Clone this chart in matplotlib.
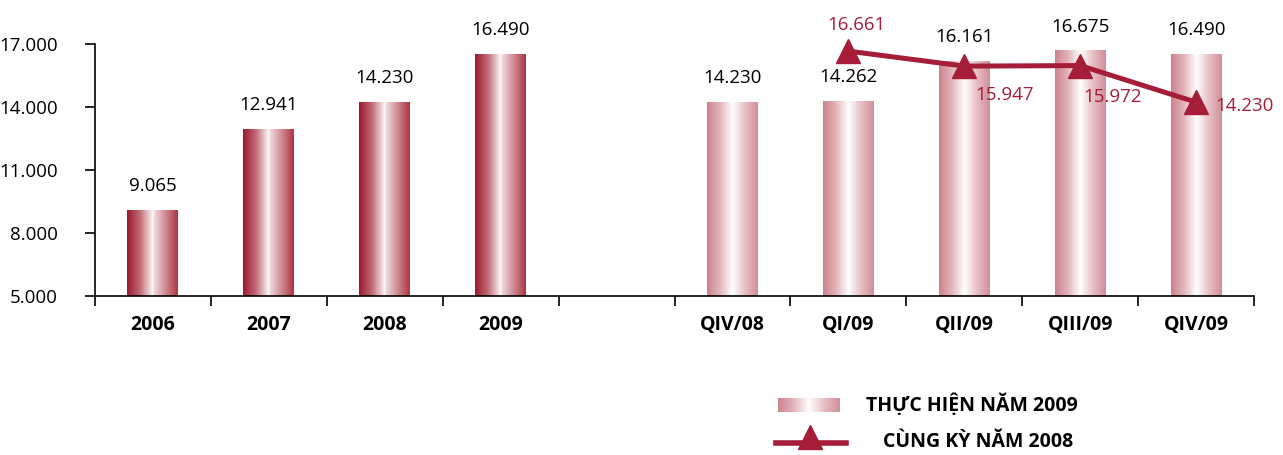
import numpy as np
import matplotlib.pyplot as plt
from matplotlib.colors import LinearSegmentedColormap

plt.rcParams['font.family'] = ['Open Sans', 'DejaVu Sans']

# du lieu
categories = ['2006', '2007', '2008', '2009', '', 'QIV/08', 'QI/09', 'QII/09', 'QIII/09', 'QIV/09']
bar_values = [9065, 12941, 14230, 16490, None, 14230, 14262, 16161, 16675, 16490]
dark_bars = [True, True, True, True, False, False, False, False, False, False]
line_cats = ['QI/09', 'QII/09', 'QIII/09', 'QIV/09']
line_values = [16661, 15947, 15972, 14230]
yticks = [5000, 8000, 11000, 14000, 17000]
legend_labels = ['THỰC HIỆN NĂM 2009', 'CÙNG KỲ NĂM 2008']

red = '#a51d38'
dark_cmap = LinearSegmentedColormap.from_list('dark', [
    (0, '#9c1830'), (0.25, '#c06a74'), (0.47, '#f3e2e3'), (0.5, '#ffffff'),
    (0.53, '#f1dcde'), (0.75, '#cf8e96'), (1, '#ae3445')])
light_cmap = LinearSegmentedColormap.from_list('light', [
    (0, '#cd828d'), (0.25, '#e2b4ba'), (0.5, '#ffffff'), (0.75, '#e6bec3'), (1, '#d18e98')])
grad = np.linspace(0, 1, 256).reshape(1, -1)


def fmt(v):
    return f"{v:,}".replace(',', '.')


fig = plt.figure(figsize=(12.83, 4.55), dpi=100)
ax = fig.add_axes([95 / 1283, 1 - 296 / 455, (1254 - 95) / 1283, (296 - 44) / 455])

x = np.arange(len(categories))
w = 0.44
ymin = yticks[0]
for i, v in enumerate(bar_values):
    if v is None:
        continue
    cmap = dark_cmap if dark_bars[i] else light_cmap
    ax.imshow(grad, cmap=cmap, aspect='auto', extent=[x[i] - w / 2, x[i] + w / 2, ymin, v], zorder=2)
    ax.annotate(fmt(v), (x[i], v), xytext=(0, 11), textcoords='offset points',
                ha='center', va='bottom', fontsize=13.5, color='black')

# duong cung ky
lx = [categories.index(c) for c in line_cats]
ax.plot(lx, line_values, color=red, lw=3.6, marker='^', markersize=17, zorder=4, clip_on=False)
offsets = [(6, 12, 'center', 'bottom'), (8, -14, 'left', 'top'), (2, -16, 'left', 'top'), (14, -3, 'left', 'center')]
for xi, v, (dx, dy, ha, va) in zip(lx, line_values, offsets):
    ax.annotate(fmt(v), (xi, v), xytext=(dx, dy), textcoords='offset points',
                ha=ha, va=va, fontsize=13.5, color=red)

ax.set_xlim(-0.5, len(categories) - 0.5)
ax.set_ylim(yticks[0], yticks[-1])
ax.set_yticks(yticks)
ax.set_yticklabels([fmt(t) for t in yticks], fontsize=13.5)
ax.set_xticks(x)
ax.set_xticklabels(categories, fontsize=14, fontweight='bold')
ax.set_xticks(np.arange(len(categories) + 1) - 0.5, minor=True)
ax.tick_params(axis='x', which='major', length=0, pad=14)
ax.tick_params(axis='x', which='minor', length=7, width=1.2, direction='out')
ax.tick_params(axis='y', length=7, width=1.2, direction='out', pad=20)
for lab in ax.get_yticklabels():
    lab.set_horizontalalignment('right')
for s in ['top', 'right']:
    ax.spines[s].set_visible(False)
ax.spines['left'].set_linewidth(1.2)
ax.spines['bottom'].set_linewidth(1.2)

# chu giai
lg = fig.add_axes([0, 0, 1, 1], zorder=5)
lg.axis('off')
lg.patch.set_alpha(0)
lg.imshow(grad, cmap=light_cmap, aspect='auto', extent=[778, 840, 412, 398])
lg.text(866, 405, legend_labels[0], fontsize=14, fontweight='bold', va='center', ha='left')
lg.plot([776, 846], [443, 443], color=red, lw=4)
lg.plot([810], [437], marker='^', color=red, markersize=17)
lg.text(883, 442, legend_labels[1], fontsize=14, fontweight='bold', va='center', ha='left')
lg.set_xlim(0, 1283)
lg.set_ylim(455, 0)

fig.savefig('out.png', dpi=100)
